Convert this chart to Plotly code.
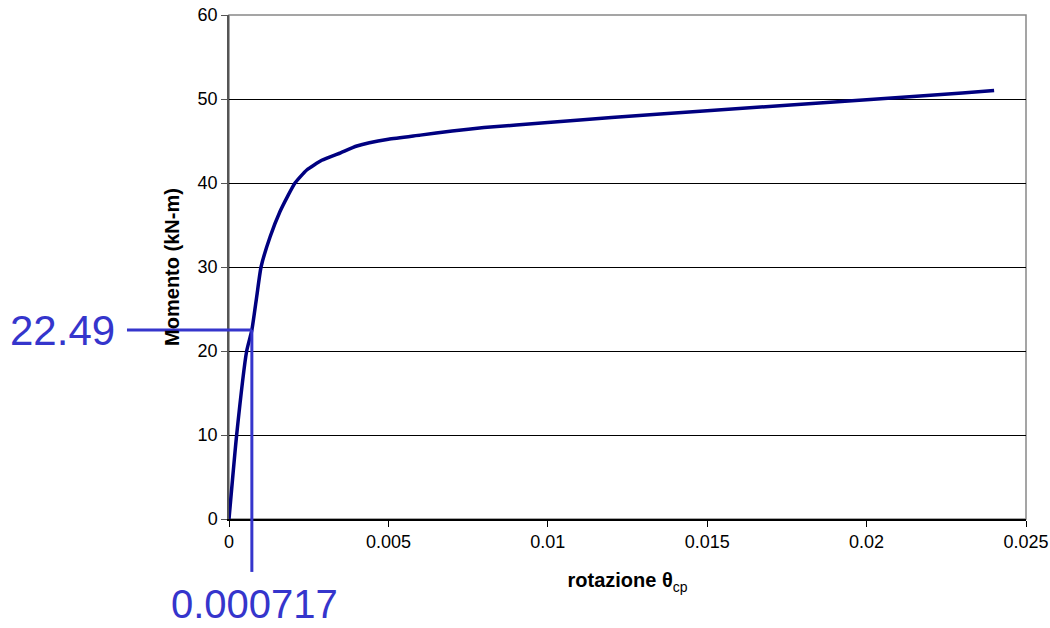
import plotly.graph_objects as go

# Moment-rotation curve
theta = [0, 0.00024, 0.000555, 0.000717, 0.00087, 0.001005, 0.00129, 0.0016, 0.00185,
         0.00207, 0.00244, 0.00291, 0.0035, 0.00401, 0.005, 0.006, 0.007, 0.008,
         0.01, 0.012, 0.015, 0.02, 0.023, 0.024]
momento = [0, 10, 20, 22.49, 26.5, 30, 33.6, 36.6, 38.5, 40, 41.55, 42.7, 43.6, 44.4,
           45.2, 45.7, 46.2, 46.6, 47.2, 47.8, 48.6, 49.9, 50.7, 51.0]

# Marked point on the curve
theta_mark = 0.000717
m_mark = 22.49

x_range = [0, 0.025]
y_range = [0, 60]
x_ticks = [0, 0.005, 0.01, 0.015, 0.02, 0.025]
x_ticktext = ["0", "0.005", "0.01", "0.015", "0.02", "0.025"]
y_ticks = [0, 10, 20, 30, 40, 50, 60]

mark_color = "#3535CC"

fig = go.Figure()
fig.add_trace(go.Scatter(x=theta, y=momento, mode="lines",
                         line=dict(color="#000080", width=3.5, shape="spline", smoothing=0.5),
                         showlegend=False, hoverinfo="skip"))

# paper coordinates of the marked point
px = (theta_mark - x_range[0]) / (x_range[1] - x_range[0])
py = (m_mark - y_range[0]) / (y_range[1] - y_range[0])

# plot border (top and right)
fig.add_shape(type="rect", xref="paper", yref="paper", x0=0, x1=1, y0=0, y1=1,
              line=dict(color="#888888", width=1.5), layer="below")

fig.add_shape(type="line", xref="paper", yref="paper", x0=-0.128, x1=px, y0=py, y1=py,
              line=dict(color=mark_color, width=3))
fig.add_shape(type="line", xref="paper", yref="paper", x0=px, x1=px, y0=py, y1=-0.105,
              line=dict(color=mark_color, width=3))

fig.add_annotation(xref="paper", yref="paper", x=-0.141, y=py, text=f"{m_mark}",
                   showarrow=False, xanchor="right", yanchor="middle",
                   font=dict(family="Liberation Sans, Arial", size=42, color=mark_color))
fig.add_annotation(xref="paper", yref="paper", x=-0.075, y=-0.168, text=f"{theta_mark:.6f}",
                   showarrow=False, xanchor="left", yanchor="middle",
                   font=dict(family="Liberation Sans, Arial", size=40, color=mark_color))

fig.update_layout(
    width=1050, height=628,
    margin=dict(l=229, r=24, t=15, b=109, autoexpand=False),
    paper_bgcolor="white", plot_bgcolor="white",
    font=dict(family="Liberation Sans, Arial", size=18, color="black"),
    xaxis=dict(range=x_range, tickvals=x_ticks, ticktext=x_ticktext,
               showgrid=False, zeroline=False, automargin=False,
               showline=True, linecolor="black", linewidth=1.5,
               ticks="outside", ticklen=6, tickcolor="black",
               title=dict(text="<b>rotazione θ</b><sub>cp</sub>", standoff=22,
                          font=dict(size=20))),
    yaxis=dict(range=y_range, tickvals=y_ticks,
               showgrid=True, gridcolor="black", gridwidth=1, zeroline=False,
               automargin=False,
               showline=True, linecolor="#555555", linewidth=1.5,
               ticks="outside", ticklen=6, tickcolor="#555555",
               title=dict(text="<b>Momento (kN-m)</b>", standoff=13,
                          font=dict(size=20))),
)

fig.write_html("out.html")
